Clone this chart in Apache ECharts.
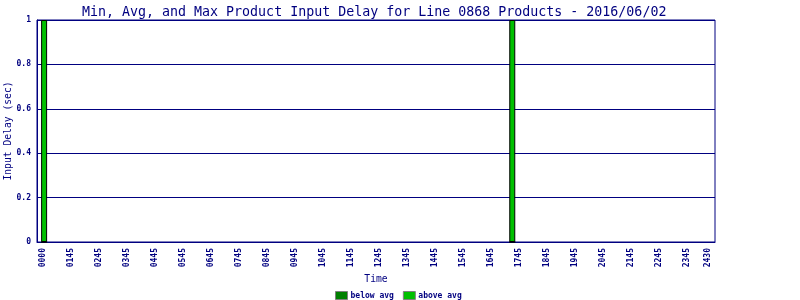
<!DOCTYPE html>
<html>
<head>
<meta charset="utf-8">
<script src="https://cdn.jsdelivr.net/npm/echarts@6/dist/echarts.min.js"></script>
<style>html,body{margin:0;padding:0;background:#fff}#c{width:800px;height:300px}</style>
</head>
<body>
<div id="c"></div>
<script>
// Tick labels along the time axis and the hour each one sits at
const tickLabels = ['0000','0145','0245','0345','0445','0545','0645','0745','0845','0945','1045','1145','1245','1345','1445','1545','1645','1745','1845','1945','2045','2145','2245','2345','2430'];
const tickHours = [0.75,1.75,2.75,3.75,4.75,5.75,6.75,7.75,8.75,9.75,10.75,11.75,12.75,13.75,14.75,15.75,16.75,17.75,18.75,19.75,20.75,21.75,22.75,23.75,24.5];
// Bars: time (hours) and delays (sec)
const barHours = [0.78, 17.5];
const belowAvg = [0, 0];
const aboveAvg = [1, 1];

const navy = '#000080';
const mono = '"DejaVu Sans Mono", "Liberation Mono", monospace';

const chart = echarts.init(document.getElementById('c'), null, {renderer: 'canvas'});
chart.setOption({
  animation: false,
  backgroundColor: '#fff',
  title: {
    text: 'Min, Avg, and Max Product Input Delay for Line 0868 Products - 2016/06/02',
    left: 77, top: 1,
    textStyle: {fontFamily: mono, fontSize: 13.3, fontWeight: 'normal', color: navy}
  },
  legend: {
    left: 335, top: 291, padding: 0, itemWidth: 12, itemHeight: 8, itemGap: 9,
    icon: 'rect',
    itemStyle: {borderColor: '#808080', borderWidth: 1},
    textStyle: {fontFamily: mono, fontSize: 8, fontWeight: 'bold', color: navy, padding: [0, 0, 0, -2]},
    data: ['below avg', 'above avg']
  },
  grid: {left: 37, right: 85, top: 20, bottom: 58, outerBoundsMode: 'none', containLabel: false,
    show: true, borderColor: navy, borderWidth: 1, backgroundColor: '#fff'},
  xAxis: {
    type: 'value', min: 0.526, max: 24.74,
    name: 'Time', nameLocation: 'middle', nameGap: 32, nameMoveOverlap: false,
    nameTextStyle: {fontFamily: mono, fontSize: 9.7, color: navy},
    axisLine: {show: true, lineStyle: {color: navy}},
    axisTick: {show: false},
    splitLine: {show: false},
    axisLabel: {
      customValues: tickHours,
      rotate: 90, margin: 6,
      fontFamily: mono, fontSize: 8, fontWeight: 'bold', color: navy,
      formatter: v => { const i = tickHours.indexOf(v); return i >= 0 ? tickLabels[i] : ''; }
    }
  },
  yAxis: {
    type: 'value', min: 0, max: 1, interval: 0.2,
    name: 'Input Delay (sec)', nameLocation: 'middle', nameGap: 24, nameRotate: 90, nameMoveOverlap: false,
    nameTextStyle: {fontFamily: mono, fontSize: 9.7, color: navy},
    axisLine: {show: true, lineStyle: {color: navy}},
    axisTick: {show: false},
    splitLine: {show: true, lineStyle: {color: navy, width: 1}},
    axisLabel: {margin: 6, fontFamily: mono, fontSize: 8, fontWeight: 'bold', color: navy}
  },
  series: [
    {
      name: 'below avg', type: 'bar', stack: 'd', barWidth: 6,
      itemStyle: {color: '#008000', borderColor: '#000', borderWidth: 1},
      data: barHours.map((h, i) => [h, belowAvg[i]])
    },
    {
      name: 'above avg', type: 'bar', stack: 'd', barWidth: 6,
      itemStyle: {color: '#00c000', borderColor: '#000', borderWidth: 1},
      data: barHours.map((h, i) => [h, aboveAvg[i]])
    }
  ]
});
</script>
</body>
</html>
